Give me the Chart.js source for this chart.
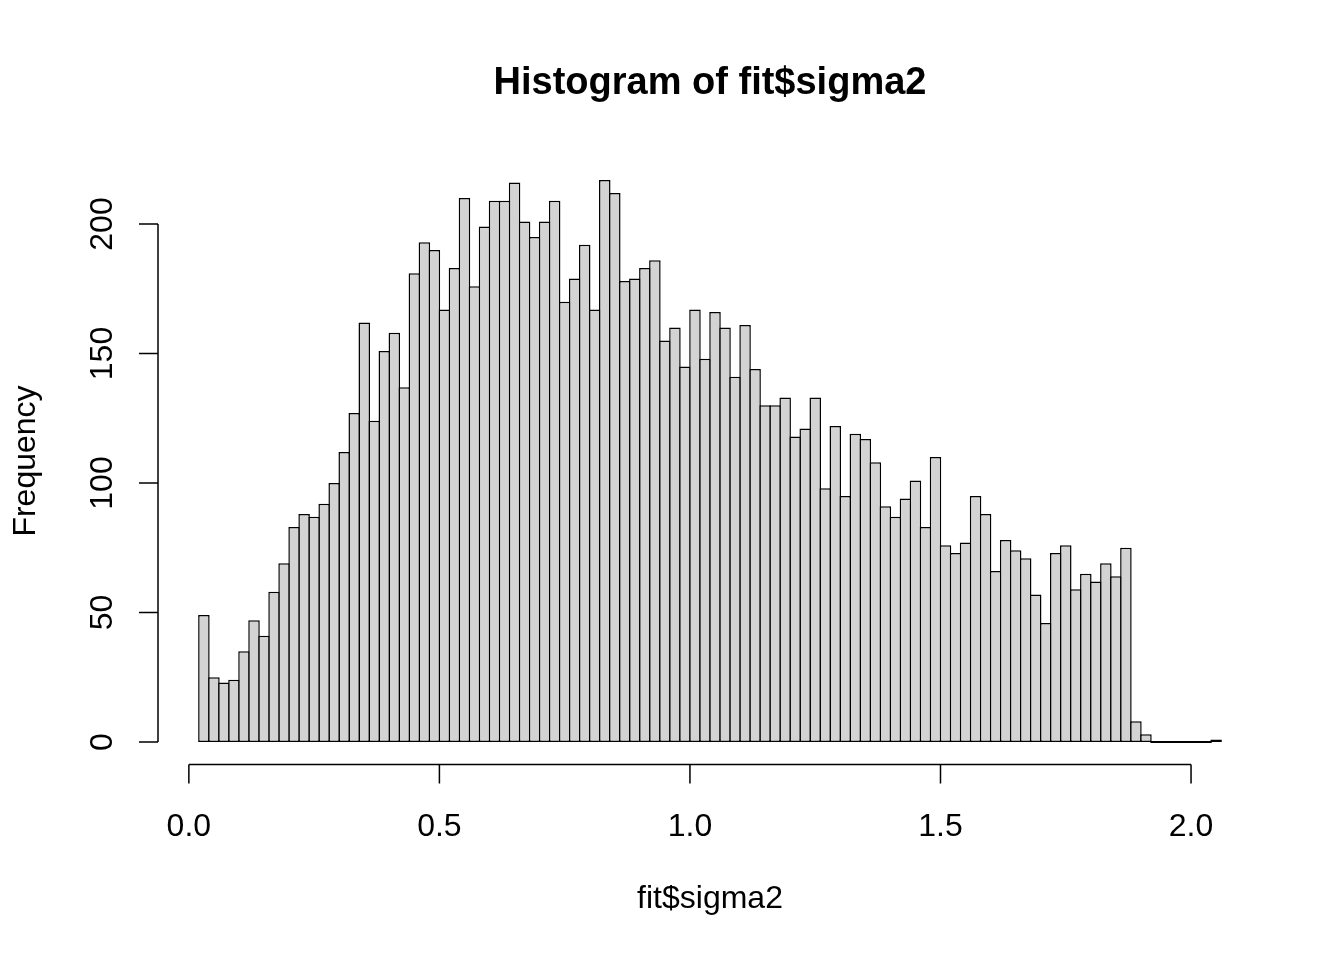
<!doctype html>
<html>

<head>
  <title>Histogram of fit$sigma2</title>
  <script src="https://cdn.jsdelivr.net/npm/chart.js@4.4.1/dist/chart.umd.min.js"></script>
  <style>
    body { margin: 0; background: #ffffff; }
  </style>
</head>

<body>
  <canvas id="hist" width="1344" height="960"></canvas>
  <script>
    // bin edges of the histogram (width 0.02)
    const breaks = [
      0.02, 0.04, 0.06, 0.08, 0.10, 0.12, 0.14, 0.16, 0.18, 0.20,
      0.22, 0.24, 0.26, 0.28, 0.30, 0.32, 0.34, 0.36, 0.38, 0.40,
      0.42, 0.44, 0.46, 0.48, 0.50, 0.52, 0.54, 0.56, 0.58, 0.60,
      0.62, 0.64, 0.66, 0.68, 0.70, 0.72, 0.74, 0.76, 0.78, 0.80,
      0.82, 0.84, 0.86, 0.88, 0.90, 0.92, 0.94, 0.96, 0.98, 1.00,
      1.02, 1.04, 1.06, 1.08, 1.10, 1.12, 1.14, 1.16, 1.18, 1.20,
      1.22, 1.24, 1.26, 1.28, 1.30, 1.32, 1.34, 1.36, 1.38, 1.40,
      1.42, 1.44, 1.46, 1.48, 1.50, 1.52, 1.54, 1.56, 1.58, 1.60,
      1.62, 1.64, 1.66, 1.68, 1.70, 1.72, 1.74, 1.76, 1.78, 1.80,
      1.82, 1.84, 1.86, 1.88, 1.90, 1.92, 1.94, 1.96, 1.98, 2.00,
      2.02, 2.04, 2.06
    ];

    // counts per bin
    const counts = [
      49, 25, 23, 24, 35, 47, 41, 58, 69, 83,
      88, 87, 92, 100, 112, 127, 162, 124, 151, 158,
      137, 181, 193, 190, 167, 183, 210, 176, 199, 209,
      209, 216, 201, 195, 201, 209, 170, 179, 192, 167,
      217, 212, 178, 179, 183, 186, 155, 160, 145, 167,
      148, 166, 160, 141, 161, 144, 130, 130, 133, 118,
      121, 133, 98, 122, 95, 119, 117, 108, 91, 87,
      94, 101, 83, 110, 76, 73, 77, 95, 88, 66,
      78, 74, 71, 57, 46, 73, 76, 59, 65, 62,
      69, 64, 75, 8, 3, 0, 0, 0, 0, 0,
      0, 1
    ];

    const xTicks = [0, 0.5, 1.0, 1.5, 2.0];
    const xTickLabels = ['0.0', '0.5', '1.0', '1.5', '2.0'];
    const yTicks = [0, 50, 100, 150, 200];
    const yTickLabels = ['0', '50', '100', '150', '200'];

    const titleText = 'Histogram of fit$sigma2';
    const xTitle = 'fit$sigma2';
    const yTitle = 'Frequency';

    const barData = [];
    for (let i = 0; i < counts.length; i++) {
      barData.push({ x: (breaks[i] + breaks[i + 1]) / 2, y: counts[i] });
    }

    // R style axes: lines only over the tick range, labels drawn by hand
    const rAxes = {
      id: 'rAxes',
      afterDraw(chart) {
        const ctx = chart.ctx;
        const xs = chart.scales.x;
        const ys = chart.scales.y;
        const area = chart.chartArea;
        const tl = 19;

        ctx.save();
        ctx.strokeStyle = '#000000';
        ctx.fillStyle = '#000000';
        ctx.lineWidth = 1.5;

        // x axis
        const yx = area.bottom;
        ctx.beginPath();
        ctx.moveTo(xs.getPixelForValue(xTicks[0]), yx);
        ctx.lineTo(xs.getPixelForValue(xTicks[xTicks.length - 1]), yx);
        xTicks.forEach(function (t) {
          const px = xs.getPixelForValue(t);
          ctx.moveTo(px, yx);
          ctx.lineTo(px, yx + tl);
        });
        ctx.stroke();

        // y axis
        const xy = area.left;
        ctx.beginPath();
        ctx.moveTo(xy, ys.getPixelForValue(yTicks[0]));
        ctx.lineTo(xy, ys.getPixelForValue(yTicks[yTicks.length - 1]));
        yTicks.forEach(function (t) {
          const py = ys.getPixelForValue(t);
          ctx.moveTo(xy, py);
          ctx.lineTo(xy - tl, py);
        });
        ctx.stroke();

        ctx.font = '32px "Liberation Sans", Arial, sans-serif';
        ctx.textAlign = 'center';
        ctx.textBaseline = 'alphabetic';
        xTicks.forEach(function (t, i) {
          ctx.fillText(xTickLabels[i], xs.getPixelForValue(t), yx + 71);
        });
        yTicks.forEach(function (t, i) {
          ctx.save();
          ctx.translate(xy - 46, ys.getPixelForValue(t));
          ctx.rotate(-Math.PI / 2);
          ctx.fillText(yTickLabels[i], 0, 0);
          ctx.restore();
        });

        // axis titles
        const cx = (area.left + area.right) / 2;
        const cy = (area.top + area.bottom) / 2;
        ctx.fillText(xTitle, cx, yx + 143);
        ctx.save();
        ctx.translate(xy - 123, cy);
        ctx.rotate(-Math.PI / 2);
        ctx.fillText(yTitle, 0, 0);
        ctx.restore();

        // main title
        ctx.font = 'bold 38px "Liberation Sans", Arial, sans-serif';
        ctx.fillText(titleText, cx, 94);
        ctx.restore();
      }
    };

    const config = {
      type: 'bar',
      data: {
        datasets: [{
          data: barData,
          backgroundColor: '#d3d3d3',
          borderColor: '#000000',
          borderWidth: 1.5,
          borderSkipped: false,
          minBarLength: 2,
          barPercentage: 1.15,
          categoryPercentage: 1.0
        }]
      },
      options: {
        responsive: false,
        animation: false,
        devicePixelRatio: 1,
        layout: {
          padding: { left: 158, right: 82, top: 157.5, bottom: 195.5 }
        },
        plugins: {
          legend: { display: false },
          title: { display: false },
          tooltip: { enabled: false }
        },
        scales: {
          x: {
            type: 'linear',
            min: -0.0616,
            max: 2.1416,
            offset: false,
            display: false
          },
          y: {
            min: -8.68,
            max: 225.68,
            display: false
          }
        }
      },
      plugins: [rAxes]
    };

    new Chart(document.getElementById('hist').getContext('2d'), config);
  </script>
</body>

</html>
